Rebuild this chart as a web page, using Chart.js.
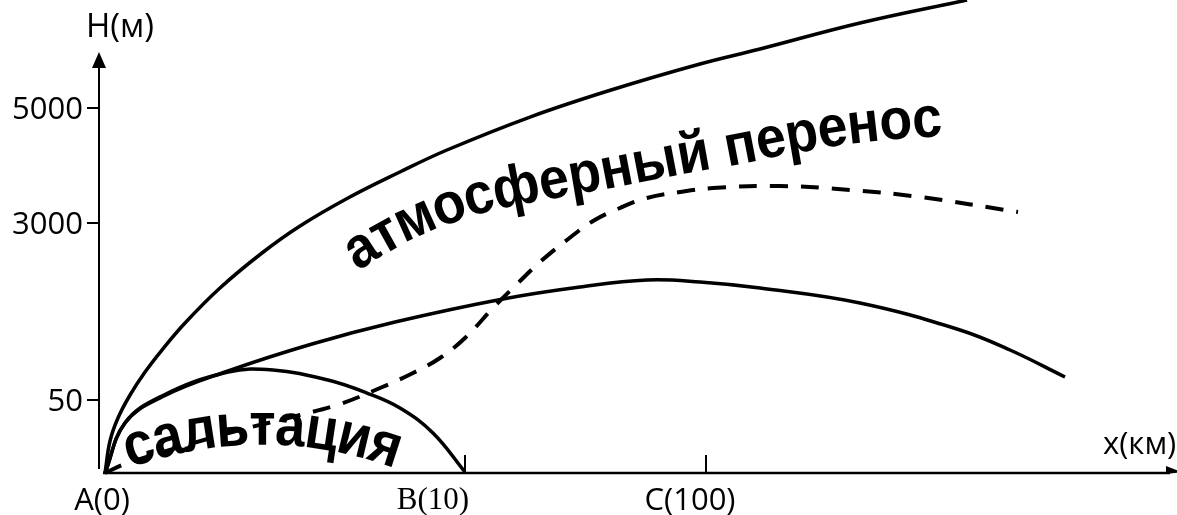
<!DOCTYPE html>
<html>
<head>
<meta charset="utf-8">
<script src="https://cdn.jsdelivr.net/npm/chart.js@4.4.1/dist/chart.umd.min.js"></script>
<style>
html, body { margin: 0; padding: 0; background: #fff; }
#wrap { width: 1177px; height: 515px; position: relative; }
</style>
</head>
<body>
<div id="wrap"><canvas id="chart"></canvas></div>
<script>
// schematic units: x runs 0..100 along the x axis, y runs 0..100 up the H axis
const upperX = [0.56, 1.02, 1.76, 2.88, 4.27, 5.84, 7.98, 11.22, 15.12, 18.65, 23.10, 27.91, 32.28, 39.98, 47.50, 55.75, 61.32, 70.59, 80.52];
const upperY = [0, 6.77, 11.63, 16.49, 21.35, 26.00, 31.71, 39.11, 46.51, 52.22, 58.14, 63.64, 68.29, 75.26, 80.97, 86.47, 89.64, 95.14, 100];

const middleX = [0.56, 2.41, 5.84, 11.97, 19.76, 27.46, 37.48, 44.62, 50.83, 55.75, 61.32, 70.59, 79.87, 84.51, 89.61];
const middleY = [0, 10.57, 16.07, 21.56, 27.27, 31.92, 36.79, 39.32, 40.80, 40.38, 39.11, 35.94, 30.23, 26.00, 20.30];

const saltX = [0.56, 2.41, 5.84, 11.97, 16.14, 21.24, 24.86, 27.92, 30.98, 33.95];
const saltY = [0, 10.57, 16.28, 21.35, 21.78, 19.66, 16.91, 13.74, 8.46, 0.21];

const dashX = [0.56, 2.41, 7.51, 13.08, 18.65, 22.36, 26.07, 29.13, 31.63, 33.95, 36.55, 38.78, 40.91, 43.41, 45.83, 48.33, 50.83, 53.90, 56.96, 63.17, 69.67, 76.16, 85.25];
const dashY = [0, 1.90, 5.50, 9.09, 12.26, 14.59, 17.97, 21.14, 24.31, 28.54, 34.88, 39.96, 44.61, 49.26, 53.28, 56.03, 58.14, 59.41, 60.25, 60.68, 59.83, 58.35, 55.18];

const yTickValues = [15.43, 52.85, 77.17];
const yTickLabels = ['50', '3000', '5000'];
const xTickValues = [0, 33.95, 56.31];
const xTickLabels = ['A(0)', 'B(10)', 'C(100)'];

const toPoints = (xs, ys) => xs.map((x, i) => ({ x: x, y: ys[i] }));

function pathWalker(pts) {
    const acc = [0];
    for (let i = 1; i < pts.length; i++) {
        acc.push(acc[i - 1] + Math.hypot(pts[i][0] - pts[i - 1][0], pts[i][1] - pts[i - 1][1]));
    }
    const at = (s) => {
        let i = 1;
        while (i < pts.length - 1 && acc[i] < s) i++;
        const t = (s - acc[i - 1]) / (acc[i] - acc[i - 1]);
        return [pts[i - 1][0] + (pts[i][0] - pts[i - 1][0]) * t, pts[i - 1][1] + (pts[i][1] - pts[i - 1][1]) * t];
    };
    return { at: at, length: acc[acc.length - 1] };
}

function textOnPath(ctx, text, pts, family, stretch) {
    const walk = pathWalker(pts);
    ctx.font = `bold 50px ${family}`;
    let w0 = 0;
    for (const ch of text) w0 += ctx.measureText(ch).width;
    const size = 50 * walk.length / w0;
    ctx.font = `bold ${size}px ${family}`;
    ctx.textAlign = 'center';
    ctx.textBaseline = 'alphabetic';
    let s = 0;
    for (const ch of text) {
        const w = ctx.measureText(ch).width;
        const mid = s + w / 2;
        const p = walk.at(mid);
        const a = walk.at(mid - 18);
        const b = walk.at(mid + 18);
        ctx.save();
        ctx.translate(p[0], p[1]);
        ctx.rotate(Math.atan2(b[1] - a[1], b[0] - a[0]));
        ctx.scale(1, stretch);
        ctx.fillText(ch, 0, size * 0.26);
        ctx.restore();
        s += w;
    }
}

const axesPlugin = {
    id: 'axes',
    afterDatasetsDraw(chart) {
        const ctx = chart.ctx;
        const xs = chart.scales.x;
        const ys = chart.scales.y;
        const ox = xs.getPixelForValue(0);
        const oy = ys.getPixelForValue(0);
        ctx.save();
        ctx.strokeStyle = '#000';
        ctx.fillStyle = '#000';

        // y axis with arrow
        ctx.lineWidth = 2;
        ctx.beginPath();
        ctx.moveTo(ox, oy - 4);
        ctx.lineTo(ox, 66);
        ctx.stroke();
        ctx.beginPath();
        ctx.moveTo(ox, 52);
        ctx.lineTo(ox - 7, 68);
        ctx.lineTo(ox + 7, 68);
        ctx.closePath();
        ctx.fill();

        // x axis with arrow
        ctx.lineWidth = 2.5;
        ctx.beginPath();
        ctx.moveTo(ox + 4, oy);
        ctx.lineTo(1170, oy);
        ctx.stroke();
        ctx.beginPath();
        ctx.moveTo(1182, oy - 1);
        ctx.lineTo(1166, oy - 7);
        ctx.lineTo(1166, oy + 1);
        ctx.closePath();
        ctx.fill();

        // y ticks and labels
        ctx.lineWidth = 2;
        ctx.font = '31px "Open Sans"';
        ctx.textAlign = 'right';
        ctx.textBaseline = 'middle';
        yTickValues.forEach((v, i) => {
            const py = ys.getPixelForValue(v);
            ctx.beginPath();
            ctx.moveTo(ox - 12, py);
            ctx.lineTo(ox, py);
            ctx.stroke();
            ctx.fillText(yTickLabels[i], ox - 16, py + 2);
        });

        // x ticks and labels
        const xShift = [3, -32, -16];
        const xFont = ['31px "Open Sans"', '31px "Liberation Serif"', '31px "Open Sans"'];
        ctx.textAlign = 'center';
        xTickValues.forEach((v, i) => {
            const px = xs.getPixelForValue(v);
            if (v > 0) {
                ctx.beginPath();
                ctx.moveTo(px, oy - 18);
                ctx.lineTo(px, oy);
                ctx.stroke();
            }
            ctx.font = xFont[i];
            ctx.fillText(xTickLabels[i], px + xShift[i], oy + 28);
        });

        // axis titles
        ctx.font = '33px "Open Sans"';
        ctx.textAlign = 'center';
        ctx.fillText('H(м)', 120, 28);
        ctx.font = '31px "Open Sans"';
        ctx.textAlign = 'left';
        ctx.fillText('x(км)', 1103, 445);

        // curved captions
        textOnPath(ctx, 'атмосферный перенос', [
            [350, 259], [363, 250], [390, 234], [418, 220], [444, 210], [472, 200], [511, 191],
            [545, 185], [574, 179], [605, 174], [645, 166], [687, 158], [744, 148], [776, 141],
            [806, 136], [834, 131], [866, 127], [896, 124], [942, 121]
        ], '"Liberation Sans"', 1.08);

        const arc = [];
        const cx = 262, cy = 829, r = 400;
        const a0 = Math.asin((125 - cx) / r), a1 = Math.asin((400 - cx) / r);
        for (let k = 0; k <= 40; k++) {
            const a = a0 + (a1 - a0) * k / 40;
            arc.push([cx + r * Math.sin(a), cy - r * Math.cos(a)]);
        }
        textOnPath(ctx, 'сальтация', arc, '"Liberation Sans"', 1.12);
        ctx.restore();
    }
};

const lineStyle = {
    borderColor: '#000',
    borderWidth: 3.5,
    pointRadius: 0,
    fill: false,
    tension: 0.4,
    clip: false
};

new Chart(document.getElementById('chart'), {
    type: 'line',
    data: {
        datasets: [
            Object.assign({ data: toPoints(upperX, upperY) }, lineStyle),
            Object.assign({ data: toPoints(middleX, middleY) }, lineStyle),
            Object.assign({ data: toPoints(saltX, saltY) }, lineStyle),
            Object.assign({ data: toPoints(dashX, dashY) }, lineStyle, { borderWidth: 4, borderDash: [18, 13] })
        ]
    },
    options: {
        responsive: true,
        maintainAspectRatio: false,
        animation: false,
        layout: { padding: { left: 99, right: 0, top: 0, bottom: 42 } },
        plugins: { legend: { display: false }, tooltip: { enabled: false } },
        scales: {
            x: { type: 'linear', min: 0, max: 100, display: false },
            y: { type: 'linear', min: 0, max: 100, display: false }
        }
    },
    plugins: [axesPlugin]
});
</script>
</body>
</html>
